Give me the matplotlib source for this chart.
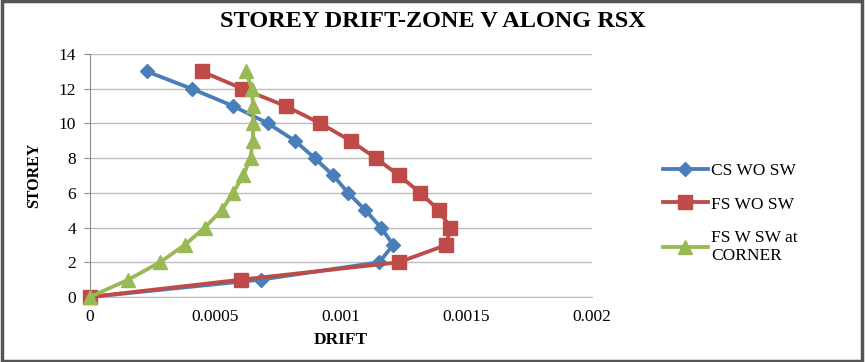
import matplotlib
matplotlib.use('Agg')
import matplotlib.pyplot as plt
from matplotlib.patches import Rectangle

# storey levels
storey = [0, 1, 2, 3, 4, 5, 6, 7, 8, 9, 10, 11, 12, 13]

# drift values
cs_wo_sw = [0, 0.000681, 0.001153, 0.001209, 0.001160, 0.001098, 0.001029,
            0.000970, 0.000896, 0.000817, 0.000710, 0.000571, 0.000405, 0.000226]
fs_wo_sw = [0, 0.000604, 0.001231, 0.001421, 0.001437, 0.001390, 0.001317,
            0.001232, 0.001140, 0.001039, 0.000919, 0.000780, 0.000608, 0.000445]
fs_w_sw_corner = [0, 0.000153, 0.000279, 0.000378, 0.000458, 0.000525, 0.000571,
                  0.000611, 0.000640, 0.000649, 0.000651, 0.000651, 0.000644, 0.000624]

labels = ['CS WO SW', 'FS WO SW', 'FS W SW at\nCORNER']
xticks = [0, 0.0005, 0.001, 0.0015, 0.002]
xtick_labels = ['0', '0.0005', '0.001', '0.0015', '0.002']

plt.rcParams['font.family'] = ['Liberation Serif', 'DejaVu Serif']

fig = plt.figure(figsize=(8.65, 3.62), dpi=100)
ax = fig.add_axes([0.104, 0.1796, 0.580, 0.6712])

ax.plot(cs_wo_sw, storey, color='#4A7EBB', linewidth=2.75, marker='D',
        markersize=7.5, label=labels[0], zorder=3)
ax.plot(fs_wo_sw, storey, color='#BE4B48', linewidth=2.75, marker='s',
        markersize=10, label=labels[1], zorder=3)
ax.plot(fs_w_sw_corner, storey, color='#98B954', linewidth=2.75, marker='^',
        markersize=10, label=labels[2], zorder=3)

ax.set_xlim(0, 0.002)
ax.set_ylim(0, 14)
ax.set_xticks(xticks)
ax.set_xticklabels(xtick_labels)
ax.set_yticks(range(0, 15, 2))
ax.grid(axis='y', color='#BDBDBD', linewidth=1)
ax.set_axisbelow(True)
for s in ['top', 'right']:
    ax.spines[s].set_visible(False)
ax.spines['bottom'].set_color('#BDBDBD')
ax.spines['left'].set_color('#8C8C8C')
ax.tick_params(axis='x', length=0, labelsize=12.5, pad=9)
ax.tick_params(axis='y', length=4, color='#8C8C8C', labelsize=12.5, pad=6)
for m in ax.lines:
    m.set_clip_on(False)

fig.suptitle('STOREY DRIFT-ZONE V ALONG RSX', x=0.5, y=0.94, va='center',
             fontsize=17.5, fontweight='bold')
ax.set_xlabel('DRIFT', fontsize=12.5, fontweight='bold', labelpad=5)
ax.set_ylabel('STOREY', fontsize=11.5, fontweight='bold', labelpad=12)

ax.legend(loc='center left', bbox_to_anchor=(0.748, 0.41),
          bbox_transform=fig.transFigure, frameon=False,
          fontsize=12.5, handlelength=2.6, labelspacing=1.0, handletextpad=0.2)

fig.patches.append(Rectangle((0.002, 0.003), 0.995, 0.994, transform=fig.transFigure,
                             fill=False, edgecolor='#555555', linewidth=2.5))

fig.savefig('out.png', dpi=100)
